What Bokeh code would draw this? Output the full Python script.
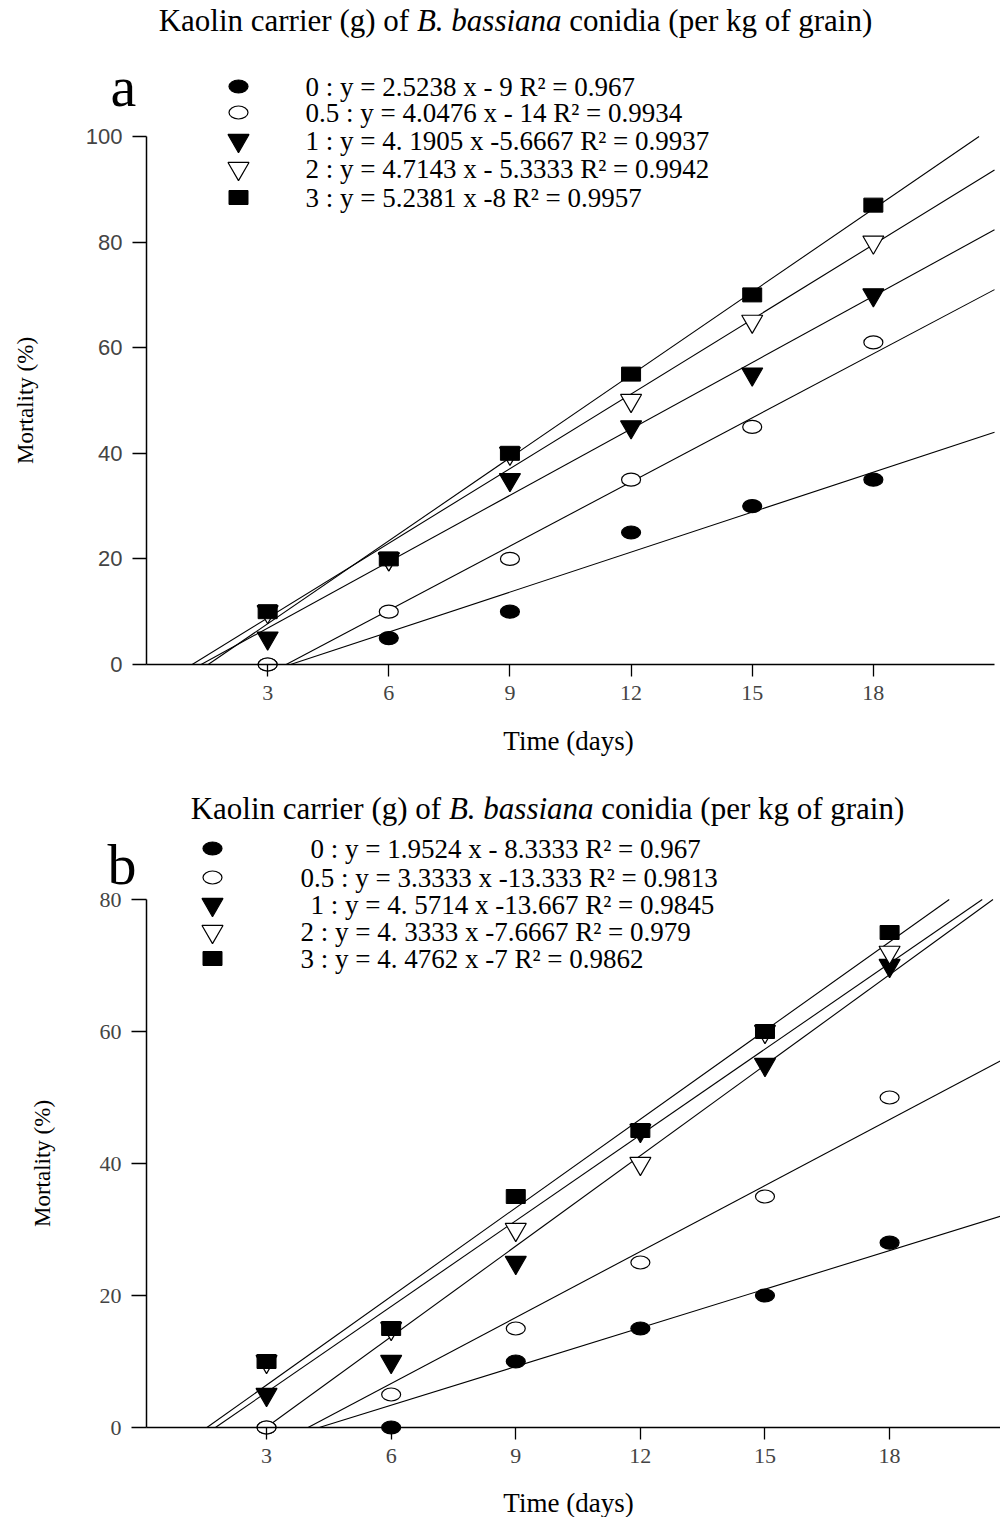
import math
from bokeh.plotting import figure
from bokeh.models import Label, Range1d, FixedTicker
from bokeh.layouts import column
from bokeh.embed import file_html
from bokeh.resources import INLINE

# ---------------- data ----------------
days = [3, 6, 9, 12, 15, 18]
doses = ["0", "0.5", "1", "2", "3"]
x_ticks = [3, 6, 9, 12, 15, 18]

# panel a
a_m0 = [0, 5, 10, 25, 30, 35]
a_m05 = [0, 10, 20, 35, 45, 61]
a_m1 = [5, 20, 35, 45, 55, 70]
a_m2 = [10, 20, 40, 50, 65, 80]
a_m3 = [10, 20, 40, 55, 70, 87]
a_slope = [2.5238, 4.0476, 4.1905, 4.7143, 5.2381]
a_icpt = [-9, -14, -5.6667, -5.3333, -8]
a_eq = ["y = 2.5238 x - 9", "y = 4.0476 x - 14", "y = 4. 1905 x -5.6667",
        "y = 4.7143 x - 5.3333", "y = 5.2381 x -8"]
a_r2 = ["0.967", "0.9934", "0.9937", "0.9942", "0.9957"]
a_yticks = [0, 20, 40, 60, 80, 100]

# panel b
b_m0 = [0, 0, 10, 15, 20, 28]
b_m05 = [0, 5, 15, 25, 35, 50]
b_m1 = [5, 10, 25, 45, 55, 70]
b_m2 = [10, 15, 30, 40, 60, 72]
b_m3 = [10, 15, 35, 45, 60, 75]
b_slope = [1.9524, 3.3333, 4.5714, 4.3333, 4.4762]
b_icpt = [-8.3333, -13.333, -13.667, -7.6667, -7]
b_eq = ["y = 1.9524 x - 8.3333", "y = 3.3333 x -13.333", "y = 4. 5714 x -13.667",
        "y = 4. 3333 x -7.6667", "y = 4. 4762 x -7"]
b_r2 = ["0.967", "0.9813", "0.9845", "0.979", "0.9862"]
b_yticks = [0, 20, 40, 60, 80]

title_parts = ["Kaolin carrier (g) of", "B. bassiana", "conidia (per kg of grain)"]
x_title = "Time (days)"
y_title = "Mortality (%)"

SERIF = "Liberation Serif"
SANS = "Liberation Sans"
MARKERS = [("ell", "black"), ("ell", "white"), ("tri", "black"), ("tri", "white"), ("rect", "black")]


def draw_marker(p, kind, fill, xs, ys):
    if kind == "ell":
        p.ellipse(x=xs, y=ys, width=19, height=13, width_units="screen", height_units="screen",
                  fill_color=fill, line_color="black", line_width=1.2)
    elif kind == "rect":
        p.rect(x=xs, y=ys, width=19, height=14, width_units="screen", height_units="screen",
               fill_color=fill, line_color="black", line_width=1)
    else:
        p.scatter(x=xs, y=ys, marker="inverted_triangle", size=21,
                  fill_color=fill, line_color="black", line_width=1.2)


def build(series, slopes, icpts, eqs, r2s, yticks, y_axis_max, px_per_y, fig_h, axis_y,
          ax_x0, ax_x1, ax_px1, tick_font, tick_len_y,
          title_y, title_cx, letter, letter_x, letter_y, leg_mx, leg_tx, leg_rows,
          xt_pos, yt_pos):
    ax_px0 = 146
    sx = (ax_x1 - ax_x0) / (ax_px1 - ax_px0)

    def X(px):
        return ax_x0 + (px - ax_px0) * sx

    def Y(py):
        return (axis_y - py) / px_per_y

    p = figure(width=1000, height=fig_h,
               x_range=Range1d(X(0), X(1000)),
               y_range=Range1d(Y(fig_h), Y(0)),
               output_backend="svg", toolbar_location=None,
               min_border_left=0, min_border_right=0,
               min_border_top=0, min_border_bottom=0)
    p.outline_line_color = None
    p.grid.visible = False
    p.background_fill_color = "white"
    p.border_fill_color = "white"

    # axes (library axes, placed at the data origin)
    xa = p.xaxis[0]
    xa.fixed_location = 0
    xa.bounds = (ax_x0, ax_x1)
    xa.ticker = FixedTicker(ticks=x_ticks, minor_ticks=[])
    xa.major_label_text_font = SERIF
    xa.major_label_text_font_size = "22px"
    xa.major_label_standoff = 9
    xa.major_tick_out = 12
    xa.major_tick_in = 0
    xa.minor_tick_line_color = None
    xa.axis_line_width = 1.5
    xa.major_tick_line_width = 1.3

    ya = p.yaxis[0]
    ya.fixed_location = ax_x0
    ya.bounds = (0, y_axis_max)
    ya.ticker = FixedTicker(ticks=yticks, minor_ticks=[])
    ya.major_label_text_font = tick_font
    ya.major_label_text_font_size = "22px"
    ya.major_label_standoff = 10
    ya.major_tick_out = tick_len_y
    ya.major_tick_in = 0
    ya.minor_tick_line_color = None
    ya.axis_line_width = 1.5
    ya.major_tick_line_width = 1.3

    # axis titles
    p.add_layout(Label(x=X(xt_pos[0]), y=Y(xt_pos[1]), text=x_title, text_font=SERIF,
                       text_font_size="27px", text_align="center", text_baseline="middle",
                       text_color="black"))
    p.add_layout(Label(x=X(yt_pos[0]), y=Y(yt_pos[1]), text=y_title, text_font=SERIF,
                       text_font_size="23px", text_align="center", text_baseline="middle",
                       angle=math.pi / 2, text_color="black"))

    # regression lines: from y = 0 to the top of the axis / right end
    x0s, y0s, x1s, y1s = [], [], [], []
    for m, b in zip(slopes, icpts):
        xs0 = max(ax_x0, -b / m)
        xs1 = min(ax_x1, (y_axis_max - b) / m)
        x0s.append(xs0); y0s.append(m * xs0 + b)
        x1s.append(xs1); y1s.append(m * xs1 + b)
    p.segment(x0=x0s, y0=y0s, x1=x1s, y1=y1s, line_color="black", line_width=1.1)

    # points
    for (kind, fill), ys in zip(MARKERS, series):
        draw_marker(p, kind, fill, days, ys)

    # legend
    for i, ((kind, fill), d, eq, r2) in enumerate(zip(MARKERS, doses, eqs, r2s)):
        ry = leg_rows[i]
        draw_marker(p, kind, fill, [X(leg_mx)], [Y(ry)])
        p.add_layout(Label(x=X(leg_tx[i]), y=Y(ry), text=f"{d} : {eq}  R\u00b2 = {r2}",
                           text_font=SERIF, text_font_size="27px",
                           text_baseline="middle", text_align="left", text_color="black"))

    # title (mixed italic)
    fs = 31
    ems = [8.33, 4.667, 10.025]
    total = sum(ems) * fs
    x0 = title_cx - total / 2
    starts = [x0, x0 + ems[0] * fs, x0 + (ems[0] + ems[1]) * fs + 0.25 * fs]
    styles = ["normal", "italic", "normal"]
    for txt, st, sxp in zip(title_parts, styles, starts):
        p.add_layout(Label(x=X(sxp), y=Y(title_y), text=txt, text_font=SERIF,
                           text_font_size=f"{fs}px", text_font_style=st,
                           text_baseline="middle", text_align="left", text_color="black"))

    # panel letter
    p.add_layout(Label(x=X(letter_x), y=Y(letter_y), text=letter, text_font=SERIF,
                       text_font_size="58px", text_baseline="alphabetic",
                       text_align="left", text_color="black"))
    return p


pa = build([a_m0, a_m05, a_m1, a_m2, a_m3], a_slope, a_icpt, a_eq, a_r2, a_yticks, 100,
           5.28, 770, 664, 0.0, 21.0, 994, SANS, 14,
           20, 515, "a", 110, 86, 238, [305, 305, 305, 305, 305],
           [86, 112, 140, 168, 197], (568, 740), (25, 400))

off = 770
pb = build([b_m0, b_m05, b_m1, b_m2, b_m3], b_slope, b_icpt, b_eq, b_r2, b_yticks, 80,
           6.6, 747, 1427 - off, 0.11, 20.67, 1000, SERIF, 15,
           808 - off, 547, "b", 107, 864 - off, 212, [310, 300, 310, 300, 300],
           [848 - off, 877 - off, 904 - off, 931 - off, 958 - off],
           (568, 1502 - off), (42, 1163 - off))

layout = column(pa, pb, spacing=0)
open("out.html", "w").write(file_html(layout, INLINE))
